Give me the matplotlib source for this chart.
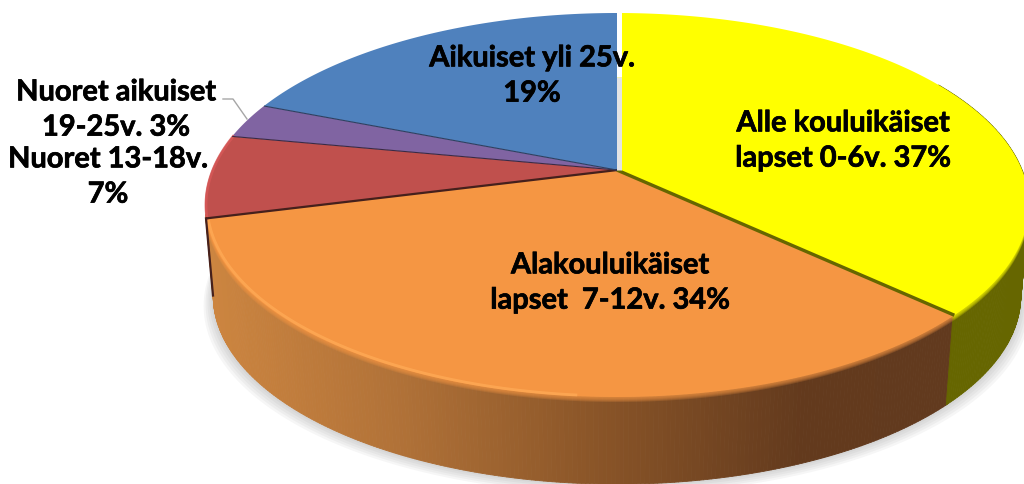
#!/usr/bin/env python3
#
import matplotlib.patheffects as pe
import matplotlib.pyplot as plt
import numpy as np

from matplotlib.collections import PolyCollection
from matplotlib.colors import LinearSegmentedColormap

plt.rcParams['font.family'] = ['Lato', 'DejaVu Sans']

LABELS = [
  'Alle kouluikäiset\nlapset 0-6v. 37%',
  'Alakouluikäiset\nlapset  7-12v. 34%',
  'Nuoret 13-18v.\n7%',
  'Nuoret aikuiset\n19-25v. 3%',
  'Aikuiset yli 25v.\n19%',
]
VALUES = [37, 34, 7, 3, 19]
COLORS = ['#FFFF00', '#F59643', '#C0504D', '#8064A2', '#4F81BD']
LABEL_POS = [(843, 141), (610, 283), (108, 177), (116, 110), (532, 76)]

# top face: ellipse seen in perspective, apex is not the ellipse centre
CX, CY, RX, RY = 617, 205, 412, 192
TILT = 0.182
# bottom edge of the wall
BOT_CY, BOT_SCALE = 296, 0.98

def top_xy(theta):
  """theta in degrees, clockwise from 12 o'clock"""
  rad = np.radians(theta)
  u, v = np.sin(rad), np.cos(rad)
  den = 1 + TILT * v
  return (CX + RX * u * np.sqrt(1 - TILT**2) / den,
          CY - RY * (v + TILT) / den)

def bot_xy(theta):
  x, y = top_xy(theta)
  return CX + (x - CX) * BOT_SCALE, BOT_CY + (y - CY) * BOT_SCALE

def wedge(start, end):
  theta = np.linspace(start, end, 200)
  x, y = top_xy(theta)
  apex_x, apex_y = CX, CY - RY * TILT
  return np.column_stack([np.r_[apex_x, x], np.r_[apex_y, y]])

def wall_quads(start, end):
  theta = np.arange(start, end + 0.5, 0.5)
  xt, yt = top_xy(theta)
  xb, yb = bot_xy(theta)
  quads = [[(xt[i], yt[i]), (xt[i+1], yt[i+1]), (xb[i+1], yb[i+1]), (xb[i], yb[i])]
           for i in range(len(theta) - 1)]
  return quads, (xt[:-1] + xt[1:]) / 2

def main():
  fig = plt.figure(figsize=(10.24, 4.84), dpi=100)
  ax = fig.add_axes([0, 0, 1, 1])
  ax.set_xlim(0, 1024)
  ax.set_ylim(484, 0)
  ax.axis('off')

  edges = np.r_[0, np.cumsum(VALUES)] * 360 / np.sum(VALUES)
  yellow_end, orange_end = edges[1], edges[2]

  # soft shadow under the wall
  theta = np.linspace(60, 285, 300)
  xb, yb = bot_xy(theta)
  for grow in (10, 8, 6, 4, 2):
    ax.fill(CX + (xb - CX) * (1 + grow / 420), yb + grow, color='#808080',
            alpha=0.07, lw=0, zorder=1)

  # walls
  orange_map = LinearSegmentedColormap.from_list('wall', [
    (0.0, '#CC8540'), (0.25, '#B17238'), (0.52, '#8A5528'),
    (0.8, '#633A1D'), (1.0, '#623A1E')])
  quads, mids = wall_quads(yellow_end, orange_end + 1)
  walls = PolyCollection(quads, array=(mids - 207) / (953 - 207), cmap=orange_map,
                         clim=(0, 1), edgecolors='face', linewidths=0.6, zorder=2)
  ax.add_collection(walls)
  quads, _ = wall_quads(60, yellow_end)
  ax.add_collection(PolyCollection(quads, facecolors='#666600', edgecolors='#666600',
                                   linewidths=0.6, zorder=2))

  # blurred rim between top face and wall
  for shift in (5, 4, 3, 2, 1):
    for i in (0, 1):
      rim = wedge(edges[i], edges[i+1])
      rim[:, 1] += shift
      ax.fill(rim[:, 0], rim[:, 1], color=COLORS[i], alpha=0.22, lw=0, zorder=3)

  # top faces
  for i, color in enumerate(COLORS):
    pts = wedge(edges[i], edges[i+1])
    ax.fill(pts[:, 0], pts[:, 1], color=color, lw=0, zorder=4)

  # highlights on the rim
  xr, yr = top_xy(np.linspace(185, orange_end - 1, 100))
  ax.plot(xr + 2, yr - 1, color='#FFAA55', lw=2, alpha=0.8, zorder=5)
  xr, yr = top_xy(np.linspace(orange_end, edges[3], 40))
  ax.plot(xr + 1, yr, color='#D85858', lw=2, alpha=0.8, zorder=5)

  # slice seams
  apex = (CX, CY - RY * TILT)
  seam_colors = ['#666600', '#45201C', '#3A2A45', '#2E3F60']
  seam_widths = [3, 2, 1, 1]
  for edge, color, width in zip(edges[1:5], seam_colors, seam_widths):
    x, y = top_xy(edge)
    ax.plot([apex[0], x], [apex[1], y], color=color, lw=width * 0.8,
            solid_capstyle='butt', zorder=6)
  x0, y0 = top_xy(orange_end)
  x1, y1 = bot_xy(orange_end)
  ax.plot([x0, x0 + (x1 - x0) * 0.85], [y0, y0 + (y1 - y0) * 0.85],
          color='#45201C', lw=1.6, zorder=6)

  # gap between the first and the last slice
  x, y = top_xy(0)
  ax.plot([x + 2, x + 2], [y - 2, apex[1] * 0.45], color='white', lw=3.6,
          solid_capstyle='butt', zorder=7)
  ax.plot([x + 2, x + 2], [apex[1] * 0.45, apex[1]], color='#E4E4E4', lw=3.6,
          solid_capstyle='butt', zorder=7)

  # leader line for the small slice
  ax.plot([223, 233, 247], [99, 99, 119], color='#A6A6A6', lw=1, zorder=8)

  for label, (x, y) in zip(LABELS, LABEL_POS):
    ax.text(x, y, label, ha='center', va='center', fontsize=20.9, fontweight='bold',
            color='black', linespacing=1.44, zorder=9,
            path_effects=[pe.withStroke(linewidth=0.5, foreground='black')])

  fig.savefig('out.png', dpi=100, facecolor='white')
  plt.close(fig)

if __name__ == "__main__":
  main()
